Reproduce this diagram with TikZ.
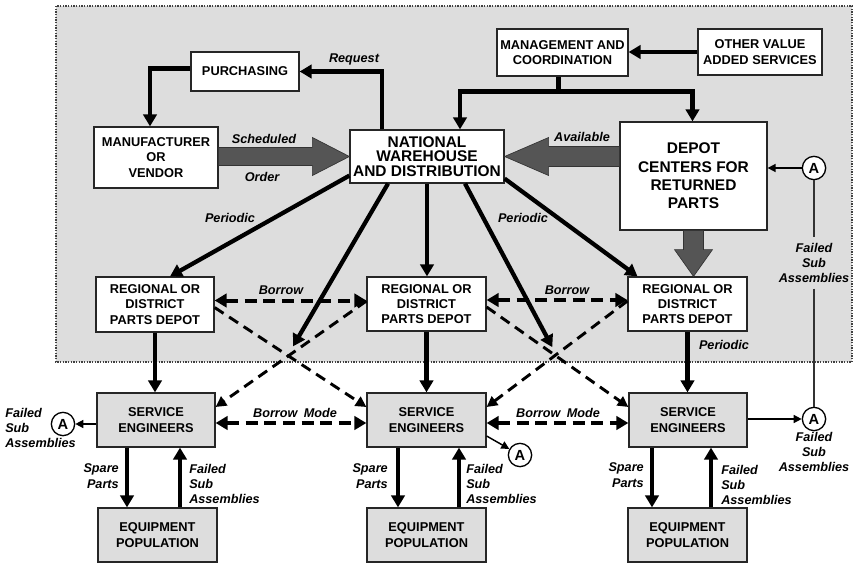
\documentclass[tikz,border=0pt]{standalone}
\usepackage{fontspec}
\setmainfont{Liberation Sans}
\usetikzlibrary{arrows.meta,calc,fit}
\definecolor{bggray}{RGB}{221,221,221}
\definecolor{bigfill}{RGB}{85,85,85}
\begin{document}
\begin{tikzpicture}[x=0.75pt,y=-0.75pt,
  box/.style={draw=black!85, line width=0.9pt, fill=white, inner sep=0pt},
  gbox/.style={box, fill=bggray},
  btxt/.style={align=center, inner sep=0pt, font=\fontsize{9.6}{11.5}\selectfont\bfseries},
  bigtxt/.style={btxt, font=\fontsize{11.6}{11}\selectfont\bfseries},
  lbl/.style={font=\fontsize{9.5}{11.6}\selectfont\bfseries\itshape, inner sep=0pt},
  thickarr/.style={line width=3.2pt, -{Triangle[length=9pt,width=10pt]}},
  thickline/.style={line width=3.2pt},
  borrow/.style={line width=3pt, dash pattern=on 9pt off 5pt, {Triangle[length=9pt,width=10pt]}-{Triangle[length=9pt,width=10pt]}},
  diag/.style={line width=2.2pt, dash pattern=on 8pt off 5pt, -{Triangle[length=8pt,width=8pt]}},
  thinarr/.style={line width=1.1pt, -{Triangle[length=6pt,width=6pt]}},
  circ/.style={circle, draw, line width=1pt, fill=white, minimum size=17.5pt, inner sep=0pt, font=\fontsize{11}{12}\selectfont\bfseries},
  bigarrow/.style={fill=bigfill, draw=black!80, line width=0.5pt},
]
\useasboundingbox (0,0) rectangle (857,564);
\fill[white] (0,0) rectangle (857,564);
\draw[fill=bggray, densely dotted, line width=1pt, draw=black!75] (56,6) rectangle (852,362);

% boxes
\node[box, fit={(191,52)(299,91)}, label={[btxt]center:PURCHASING}] (purch) {};
\node[box, fit={(94,127)(218,188)}, label={[btxt]center:{MANUFACTURER\\OR\\VENDOR}}] (manuf) {};
\node[box, fit={(350,130)(504,183)}, label={[bigtxt]center:{NATIONAL\\WAREHOUSE\\AND DISTRIBUTION}}] (nat) {};
\node[box, fit={(497,29)(628,76)}, label={[btxt]center:{MANAGEMENT AND\\COORDINATION}}] (mgmt) {};
\node[box, fit={(698,29)(822,75)}, label={[btxt]center:{OTHER VALUE\\ADDED SERVICES}}] (other) {};
\node[box, fit={(620,122)(767,230)}, label={[bigtxt, font=\fontsize{11.6}{13.75}\selectfont\bfseries]center:{DEPOT\\CENTERS FOR\\RETURNED\\PARTS}}] (depotc) {};
\node[box, fit={(96,277)(214,332)}, label={[btxt]center:{REGIONAL OR\\DISTRICT\\PARTS DEPOT}}] (reg1) {};
\node[box, fit={(367,277)(486,331)}, label={[btxt]center:{REGIONAL OR\\DISTRICT\\PARTS DEPOT}}] (reg2) {};
\node[box, fit={(628,277)(747,331)}, label={[btxt]center:{REGIONAL OR\\DISTRICT\\PARTS DEPOT}}] (reg3) {};
\node[gbox, fit={(97,393)(215,447)}, label={[btxt]center:{SERVICE\\ENGINEERS}}] (svc1) {};
\node[gbox, fit={(367,393)(486,447)}, label={[btxt]center:{SERVICE\\ENGINEERS}}] (svc2) {};
\node[gbox, fit={(629,393)(747,447)}, label={[btxt]center:{SERVICE\\ENGINEERS}}] (svc3) {};
\node[gbox, fit={(98,508)(217,562)}, label={[btxt]center:{EQUIPMENT\\POPULATION}}] (eq1) {};
\node[gbox, fit={(367,508)(486,562)}, label={[btxt]center:{EQUIPMENT\\POPULATION}}] (eq2) {};
\node[gbox, fit={(628,508)(747,562)}, label={[btxt]center:{EQUIPMENT\\POPULATION}}] (eq3) {};

% circles A
\node[circ] (A1) at (63,424) {A};
\node[circ] (A2) at (520,455) {A};
\node[circ] (A3) at (814,419) {A};
\node[circ] (A4) at (814,168) {A};

% request
\draw[thickarr] ($(nat.north)+(-45,0)$) |- (purch.east);
\node[lbl] at (354,59) {Request};
% purchasing to manufacturer
\draw[thickarr] ($(purch.west)+(0,-3)$) -| ($(manuf.north)+(-6,0)$);

% management
\coordinate (mj) at ($(mgmt.south)+(-4,15)$);
\draw[thickline] ($(mgmt.south)+(-4,0)$) -- (mj);
\draw[thickarr] (mj) -| ($(nat.north)+(33,0)$);
\draw[thickarr] (mj) -| ($(depotc.north)+(-1,0)$);
\draw[thickarr] (other.west) -- (other.west -| mgmt.east);

% big arrows
\path (nat.west) ++(0,-9) coordinate (s1) ++(0,18) coordinate (s2);
\filldraw[bigarrow] (manuf.east |- s1) -- ($(s1)+(-37,0)$) -- ($(nat.west)+(-37,-19)$) -- (nat.west) -- ($(nat.west)+(-37,19)$) -- ($(s2)+(-37,0)$) -- (manuf.east |- s2) -- cycle;
\node[lbl] at (264,139) {Scheduled};
\node[lbl] at (262,177) {Order};

\path (nat.east) ++(0,-10) coordinate (a1) ++(0,20) coordinate (a2);
\filldraw[bigarrow] (depotc.west |- a1) -- ($(a1)+(44,0)$) -- ($(nat.east)+(44,-19)$) -- (nat.east) -- ($(nat.east)+(44,19)$) -- ($(a2)+(44,0)$) -- (depotc.west |- a2) -- cycle;
\node[lbl] at (582,137) {Available};

\path (depotc.south) ++(-10,0) coordinate (d1) ++(20,0) coordinate (d2);
\coordinate (dt) at (depotc.south |- reg3.north);
\filldraw[bigarrow] (d1) -- ($(d1)+(0,19)$) -- ($(depotc.south)+(-19,19)$) -- (dt) -- ($(depotc.south)+(19,19)$) -- ($(d2)+(0,19)$) -- (d2) -- cycle;

% national to regionals
\coordinate (xl) at (288,355);
\coordinate (xr) at (557,356);
\draw[thickarr] ($(nat.south west)+(0,-8)$) -- ($(reg1.north)+(15,0)$);
\node[lbl] at (230,218) {Periodic};
\draw[thickarr, shorten >=7.5pt] ($(nat.south)+(-39,0)$) -- (xl);
\draw[thickarr] (nat.south) -- (nat.south |- reg2.north);
\draw[thickarr, shorten >=7.5pt] ($(nat.south)+(38,0)$) -- (xr);
\node[lbl] at (523,218) {Periodic};
\draw[thickarr] ($(nat.south east)+(0,-5)$) -- ($(reg3.north)+(-50,0)$);

% regional to service
\draw[thickarr] (reg1.south) -- (reg1.south |- svc1.north);
\draw[thickarr] (reg2.south) -- (reg2.south |- svc2.north);
\draw[thickarr] (reg3.south) -- (reg3.south |- svc3.north);
\node[lbl] at (724,345) {Periodic};

% borrow
\path ($(reg1.east)+(0,-4)$) coordinate (b1);
\draw[borrow] (b1) -- (b1 -| reg2.west);
\node[lbl] at (281,290) {Borrow};
\path ($(reg2.east)+(0,-4)$) coordinate (b2);
\draw[borrow] (b2) -- (b2 -| reg3.west);
\node[lbl] at (567,290) {Borrow};

% diagonal dashed
\draw[diag] ($(reg1.east)+(0,3)$) -- ($(svc2.west)+(0,-13)$);
\draw[diag] ($(reg2.west)+(0,-3)$) -- ($(svc1.east)+(0,-13)$);
\draw[diag] ($(reg2.east)+(0,3)$) -- ($(svc3.west)+(0,-13)$);
\draw[diag] ($(reg3.west)+(0,-3)$) -- ($(svc2.east)+(0,-13)$);

% borrow mode
\path ($(svc1.east)+(0,3)$) coordinate (m1);
\draw[borrow] (m1) -- (m1 -| svc2.west);
\node[lbl] at (295,413) {Borrow\enspace Mode};
\path ($(svc2.east)+(0,3)$) coordinate (m2);
\draw[borrow] (m2) -- (m2 -| svc3.west);
\node[lbl] at (558,413) {Borrow\enspace Mode};

% A connections
\draw[thinarr] (svc1.west |- A1) -- (A1.east);
\draw[thinarr] ($(svc2.east)+(0,16)$) -- (A2);
\draw[thinarr] (svc3.east |- A3) -- (A3.west);
\draw[thinarr] (A4.west) -- (A4.west -| depotc.east);
\node[lbl, align=center, inner sep=4pt] (fA4) at (814,263) {Failed\\Sub\\Assemblies};
\draw[line width=0.8pt, black!80] (A4) -- (fA4);
\draw[line width=0.8pt, black!80] (fA4) -- (A3);
\node[lbl, anchor=west, align=left] at (5,428) {Failed\\Sub\\Assemblies};
\node[lbl, align=center] at (814,452) {Failed\\Sub\\Assemblies};

% service to equipment
\path ($(svc1.south)+(-29,0)$) coordinate (sp1);
\draw[thickarr] (sp1) -- (sp1 |- eq1.north);
\path ($(svc1.south)+(24,0)$) coordinate (fp1);
\draw[thickarr] (fp1 |- eq1.north) -- (fp1);
\node[lbl, anchor=east, align=right] at (119,476) {Spare\\Parts};
\node[lbl, anchor=west, align=left] at (189,484) {Failed\\Sub\\Assemblies};

\path ($(svc2.south)+(-28.5,0)$) coordinate (sp2);
\draw[thickarr] (sp2) -- (sp2 |- eq2.north);
\path ($(svc2.south)+(32.5,0)$) coordinate (fp2);
\draw[thickarr] (fp2 |- eq2.north) -- (fp2);
\node[lbl, anchor=east, align=right] at (388,476) {Spare\\Parts};
\node[lbl, anchor=west, align=left] at (466,484) {Failed\\Sub\\Assemblies};

\path ($(svc3.south)+(-36,0)$) coordinate (sp3);
\draw[thickarr] (sp3) -- (sp3 |- eq3.north);
\path ($(svc3.south)+(23,0)$) coordinate (fp3);
\draw[thickarr] (fp3 |- eq3.north) -- (fp3);
\node[lbl, anchor=east, align=right] at (644,475) {Spare\\Parts};
\node[lbl, anchor=west, align=left] at (721,485) {Failed\\Sub\\Assemblies};
\end{tikzpicture}
\end{document}
